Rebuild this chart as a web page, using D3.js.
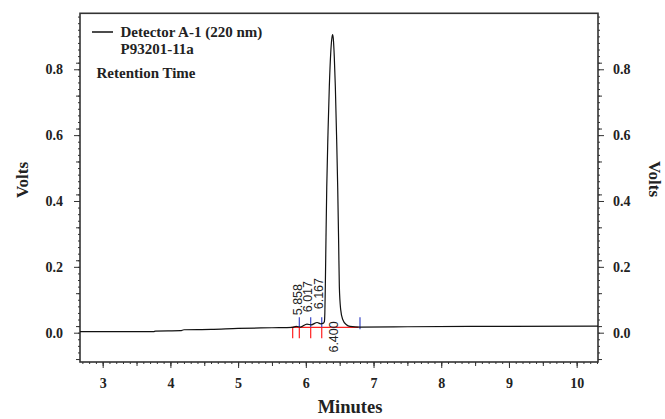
<!DOCTYPE html>
<html>
<head>
<meta charset="utf-8">
<script src="https://cdn.jsdelivr.net/npm/d3@7"></script>
<style>
  body { margin: 0; background: #fff; }
  .tick text { font-family: "Liberation Serif", "Times New Roman", serif; font-weight: bold; font-size: 14px; fill: #222; }
  .axis path, .axis line { stroke: #333; }
</style>
</head>
<body>
<div id="chart"></div>
<script>
const chartEl = "#chart";
const W = 665, H = 419;

// chromatogram trace: [minutes, volts]
const traceTime = [2.665, 3.75, 3.78, 4.15, 4.2, 4.6, 5.0, 5.5, 5.8, 5.858, 5.92, 6.017, 6.08, 6.167, 6.22,
                   6.26, 6.274, 6.281, 6.288, 6.298, 6.309, 6.328, 6.347, 6.368, 6.385, 6.395, 6.405, 6.42,
                   6.436, 6.455, 6.471, 6.485, 6.495, 6.515, 6.545, 6.6, 6.653, 6.8, 7.5, 8.5, 10.315];
const traceVolts = [0.003, 0.003, 0.005, 0.006, 0.009, 0.010, 0.013, 0.015, 0.016, 0.019, 0.017, 0.026, 0.024, 0.031, 0.027,
                    0.029, 0.034, 0.06, 0.14, 0.29, 0.44, 0.61, 0.747, 0.85, 0.895, 0.905, 0.895, 0.84,
                    0.747, 0.59, 0.44, 0.27, 0.14, 0.07, 0.04, 0.024, 0.019, 0.017, 0.018, 0.019, 0.02];

// integration results
const peakTimes = [5.858, 6.017, 6.167, 6.400];
const peakLabels = ["5.858", "6.017", "6.167", "6.400"];
const peakStarts = [5.806, 5.904, 6.072, 6.235];
const peakEnds = [5.904, 6.072, 6.235, 6.80];
const integBaseline = 0.0164;

const xMajor = [3, 4, 5, 6, 7, 8, 9, 10];
const yMajor = [0.0, 0.2, 0.4, 0.6, 0.8];

const legendLines = ["Detector A-1 (220 nm)", "P93201-11a"];
const legendTitle = "Retention Time";

const margin = {left: 80, right: 67, top: 13.3, bottom: 57};
const x = d3.scaleLinear().domain([2.665, 10.315]).range([margin.left, W - margin.right]);
const y = d3.scaleLinear().domain([-0.089, 0.970]).range([H - margin.bottom, margin.top]);

const svg = d3.select(chartEl).append("svg")
    .attr("width", W)
    .attr("height", H);

function steps(a, b, s) {
    var out = [];
    for (var i = 0; a + i * s <= b + 1e-9; i++) out.push(+(a + i * s).toFixed(4));
    return out;
}

// ticks: minor, medium, major
function drawX(values, size, labels) {
    svg.append("g").attr("class", "axis")
        .attr("transform", "translate(0," + y.range()[0] + ")")
        .call(d3.axisBottom(x).tickValues(values).tickSize(size).tickPadding(10)
            .tickFormat(labels ? d3.format("d") : ""))
        .call(function(g) { g.select(".domain").remove(); });
}
drawX(steps(2.7, 10.3, 0.1), 2, false);
drawX(steps(3, 10, 0.5), 4, false);
drawX(xMajor, 6, true);

function drawY(side, values, size, labels) {
    var ax = side == "left" ? d3.axisLeft(y) : d3.axisRight(y);
    svg.append("g").attr("class", "axis")
        .attr("transform", "translate(" + (side == "left" ? x.range()[0] : x.range()[1]) + ",0)")
        .call(ax.tickValues(values).tickSize(size).tickPadding(side == "left" ? 11 : 9)
            .tickFormat(labels ? d3.format(".1f") : ""))
        .call(function(g) { g.select(".domain").remove(); });
}
["left", "right"].forEach(function(side) {
    drawY(side, steps(-0.08, 0.96, 0.02), 2, false);
    drawY(side, steps(-0.08, 0.9, 0.1), 4, false);
    drawY(side, yMajor, 6, true);
});

// frame
svg.append("rect")
    .attr("x", x.range()[0]).attr("y", y.range()[1])
    .attr("width", x.range()[1] - x.range()[0])
    .attr("height", y.range()[0] - y.range()[1])
    .attr("fill", "none").attr("stroke", "#333").attr("stroke-width", 1.6);

// integration marks
const by = y(integBaseline);
svg.append("line")
    .attr("x1", x(peakStarts[0]) - 1.5).attr("x2", x(peakEnds[peakEnds.length - 1]) - 1.5)
    .attr("y1", by).attr("y2", by)
    .attr("stroke", "#ff2020").attr("stroke-width", 1.2);
svg.append("g").selectAll("line")
    .data(peakStarts).join("line")
    .attr("x1", d => x(d)).attr("x2", d => x(d))
    .attr("y1", by).attr("y2", by + 11)
    .attr("stroke", "#ff2020").attr("stroke-width", 1.2);
svg.append("g").selectAll("line")
    .data(peakEnds).join("line")
    .attr("x1", d => x(d)).attr("x2", d => x(d))
    .attr("y1", (d, i) => i == peakEnds.length - 1 ? by + 2 : by)
    .attr("y2", by - 10)
    .attr("stroke", "#3a48c8").attr("stroke-width", 1.2);

// trace
const trace = traceTime.map((t, i) => [t, traceVolts[i]]);
svg.append("path")
    .datum(trace)
    .attr("fill", "none")
    .attr("stroke", "#111")
    .attr("stroke-width", 1.2)
    .attr("d", d3.line().x(d => x(d[0])).y(d => y(d[1])).curve(d3.curveMonotoneX));

// peak labels
const mainIdx = peakTimes.length - 1;
svg.append("g").selectAll("text")
    .data(peakTimes).join("text")
    .attr("transform", function(d, i) {
        var py = i == mainIdx ? by - 6 : by - 12 - i * 3;
        return "translate(" + (x(d) + 5.5) + "," + py + ") rotate(-90)";
    })
    .attr("text-anchor", (d, i) => i == mainIdx ? "end" : "start")
    .attr("font-family", "'Liberation Sans', Arial, sans-serif")
    .attr("font-size", 12.5)
    .attr("fill", "#222")
    .text((d, i) => peakLabels[i]);

// legend
const serif = "'Liberation Serif', 'Times New Roman', serif";
svg.append("line")
    .attr("x1", 92).attr("x2", 113).attr("y1", 32).attr("y2", 32)
    .attr("stroke", "#111").attr("stroke-width", 1.5);
svg.append("g").selectAll("text")
    .data(legendLines).join("text")
    .attr("x", 120.5).attr("y", (d, i) => 36.5 + i * 17)
    .attr("font-family", serif).attr("font-weight", "bold").attr("font-size", 15)
    .attr("fill", "#222")
    .text(d => d);
svg.append("text")
    .attr("x", 96.5).attr("y", 78)
    .attr("font-family", serif).attr("font-weight", "bold").attr("font-size", 15)
    .attr("fill", "#222")
    .text(legendTitle);

// axis titles
svg.append("text")
    .attr("transform", "translate(28,180) rotate(-90)")
    .attr("text-anchor", "middle")
    .attr("font-family", serif).attr("font-weight", "bold").attr("font-size", 17)
    .attr("fill", "#222")
    .text("Volts");
svg.append("text")
    .attr("transform", "translate(649,179) rotate(90)")
    .attr("text-anchor", "middle")
    .attr("font-family", serif).attr("font-weight", "bold").attr("font-size", 17)
    .attr("fill", "#222")
    .text("Volts");
svg.append("text")
    .attr("x", 350).attr("y", 413)
    .attr("text-anchor", "middle")
    .attr("font-family", serif).attr("font-weight", "bold").attr("font-size", 18.5)
    .attr("fill", "#222")
    .text("Minutes");
</script>
</body>
</html>
